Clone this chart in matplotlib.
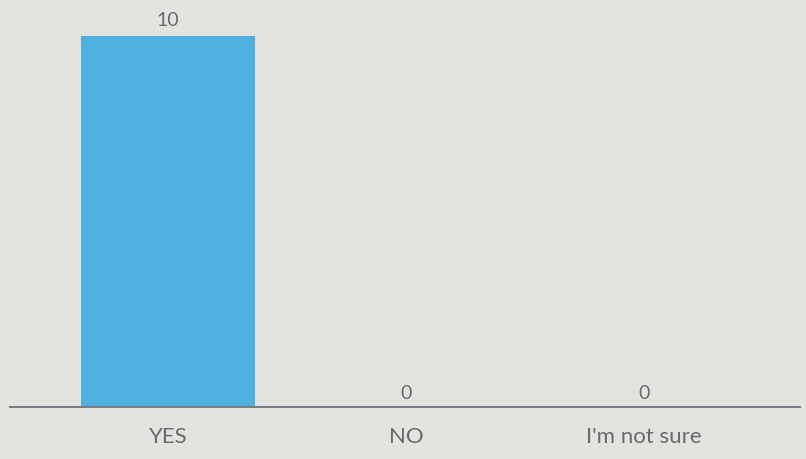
import matplotlib
matplotlib.use("Agg")
import matplotlib.pyplot as plt

categories = ["YES", "NO", "I'm not sure"]
values = [10, 0, 0]

bg = "#e3e3e0"
bar_color = "#4eb0de"
text_color = "#6a6a6e"

fig = plt.figure(figsize=(8.06, 4.6), dpi=100, facecolor=bg)
ax = fig.add_axes([10/806, 52/460, 790/806, 408/460])
ax.set_facecolor(bg)

x = list(range(len(categories)))
bars = ax.bar(x, values, width=0.73, color=bar_color, zorder=2)
for xi, v in zip(x, values):
    ax.annotate(str(v), (xi, v), xytext=(0, 6 if v > 0 else 4), textcoords="offset points",
                ha="center", va="bottom", fontsize=14, color=text_color,
                family=["Lato", "DejaVu Sans"])

ax.set_xlim(-0.664, 2.655)
ax.set_ylim(0, 11.0)
ax.set_xticks(x)
ax.set_xticklabels(categories, fontsize=16, color=text_color, family=["Lato", "DejaVu Sans"])
ax.tick_params(axis="x", length=0, pad=14)
ax.set_yticks([])
for s in ["top", "right", "left"]:
    ax.spines[s].set_visible(False)
ax.spines["bottom"].set_color("#7c7c84")
ax.spines["bottom"].set_linewidth(1.5)

fig.savefig("out.png", dpi=100, facecolor=bg)
